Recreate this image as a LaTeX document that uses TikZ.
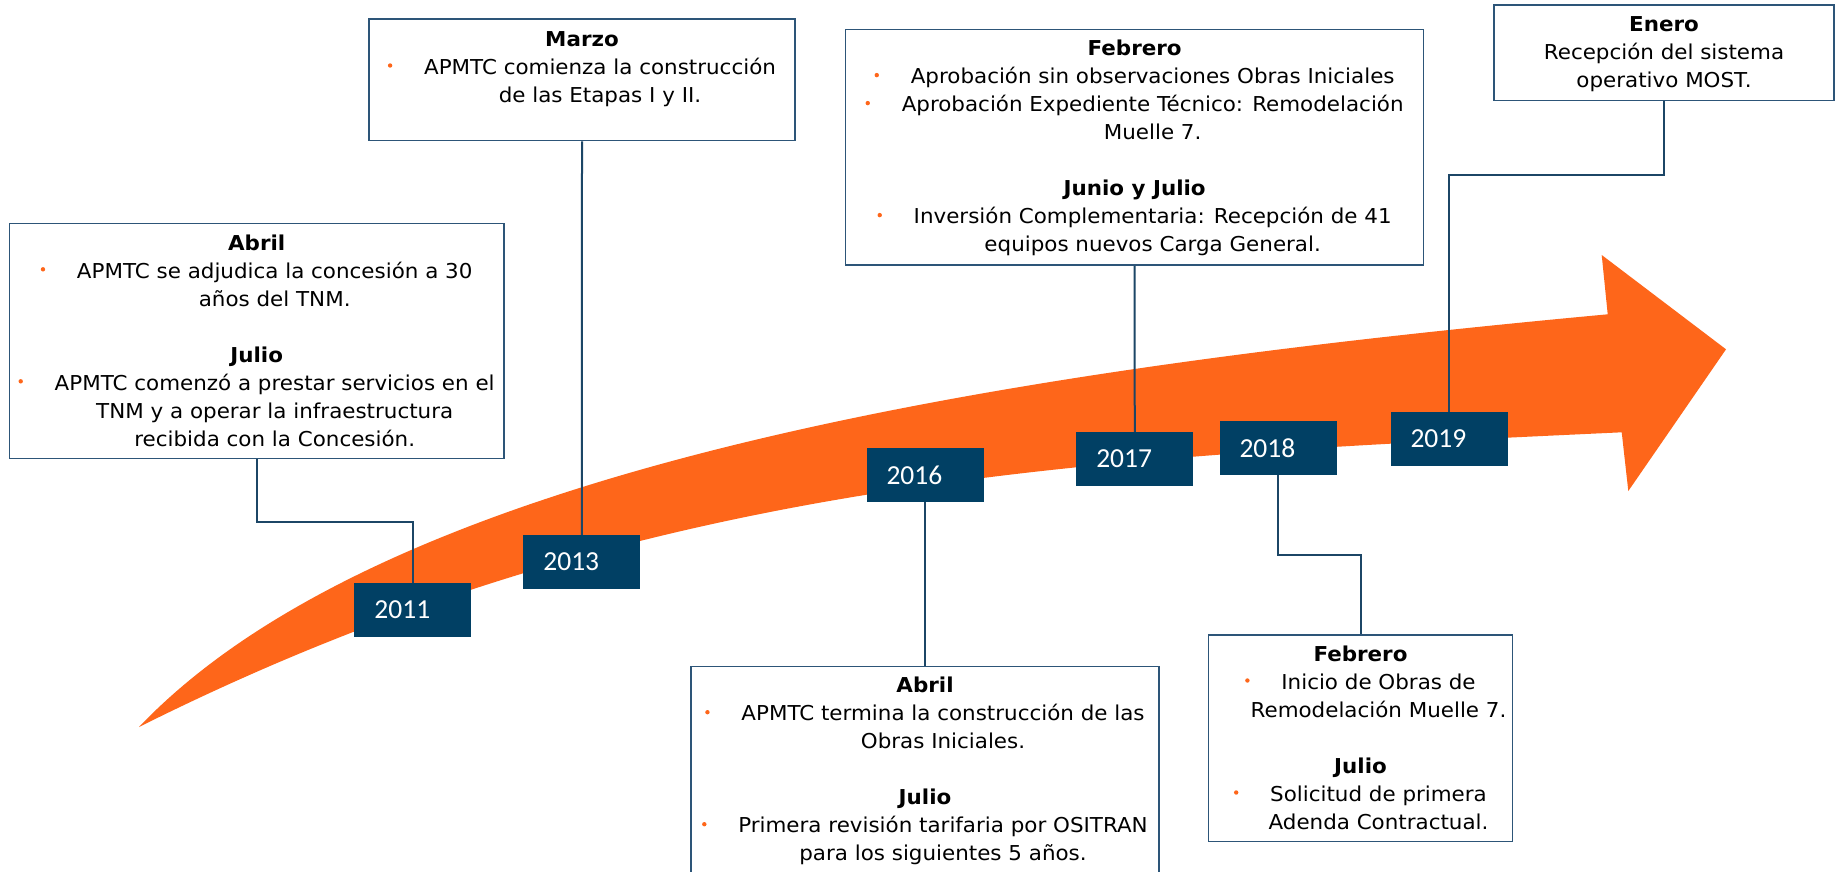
\documentclass[tikz,border=0pt]{standalone}
\usepackage{fontspec}
\newfontfamily\vfont[FakeStretch=1.045]{DejaVu Sans}
\newfontfamily\cfont{Carlito}
\definecolor{orng}{RGB}{254,102,26}
\definecolor{navy}{RGB}{1,64,100}
\definecolor{bord}{RGB}{45,85,120}
\definecolor{conncol}{RGB}{28,70,102}
\newcommand\bul{\hspace*{36pt}\llap{\tikz[baseline=-8.7pt]\fill[orng] (0,0) circle (2.2pt);\hspace{31.8pt}}}
\newcommand\indt{\hspace*{36pt}}
\newcommand\firstl{\rule{0pt}{20pt}}
\begin{document}
\begin{tikzpicture}[x=1pt,y=-1pt,
 tbox/.style={draw=bord, line width=1.5pt, fill=white, inner sep=0pt},
 ybox/.style={fill=navy, inner sep=0pt, minimum width=117pt, minimum height=53.7pt},
 ytxt/.style={font=\cfont\fontsize{27.5}{30}\selectfont, text=white, inner sep=0pt, anchor=west},
 txt/.style={font=\vfont\fontsize{20.5}{28}\selectfont, align=center, inner sep=0pt, anchor=north},
 connline/.style={draw=conncol, line width=2pt}]
\useasboundingbox (0,0) rectangle (1841,871);
\fill[white] (0,0) rectangle (1841,871);
% arrow
\fill[orng] (139,727) .. controls (389,464.5) and (1008,369.8) .. (1607.7,314.3)
  -- (1601.7,255) -- (1726,349.3) -- (1628.3,491) -- (1621.7,432.3)
  .. controls (1072,457.9) and (639,477) .. (139,727) -- cycle;
% text boxes
\node[tbox, minimum width=494.6pt, minimum height=235.4pt] (b2011) at (256.7,341) {};
\node[tbox, minimum width=426pt, minimum height=121.7pt] (b2013) at (582,79.85) {};
\node[tbox, minimum width=577.9pt, minimum height=235.7pt] (b2017) at (1134.65,147.15) {};
\node[tbox, minimum width=340pt, minimum height=95.7pt] (b2019) at (1664,52.85) {};
\node[tbox, minimum width=468pt, minimum height=223.3pt] (b2016) at (925,778.35) {};
\node[tbox, minimum width=304.4pt, minimum height=206.7pt] (b2018) at (1360.5,738.35) {};
% texts
\node[txt] (t2011) at (256.7,229.8) {\firstl\textbf{Abril}\\
\bul APMTC se adjudica la concesión a 30\\
\indt años del TNM.\\[28pt]
\textbf{Julio}\\
\bul APMTC comenzó a prestar servicios en el\\
\indt TNM y a operar la infraestructura\\
\indt recibida con la Concesión.};
\node[txt] (t2013) at (582,26) {\firstl\textbf{Marzo}\\
\bul APMTC comienza la construcción\\
\indt de las Etapas I y II.};
\node[txt] (t2017) at (1134.65,35.6) {\firstl\textbf{Febrero}\\
\bul Aprobación sin observaciones Obras Iniciales\\
\bul Aprobación Expediente Técnico: Remodelación\\
\indt Muelle 7.\\[28pt]
\textbf{Junio y Julio}\\
\bul Inversión Complementaria: Recepción de 41\\
\indt equipos nuevos Carga General.};
\node[txt] (t2019) at (1664,11.7) {\firstl\textbf{Enero}\\
Recepción del sistema\\
operativo MOST.};
\node[txt] (t2016) at (925,672.7) {\firstl\textbf{Abril}\\
\bul APMTC termina la construcción de las\\
\indt Obras Iniciales.\\[28pt]
\textbf{Julio}\\
\bul Primera revisión tarifaria por OSITRAN\\
\indt para los siguientes 5 años.};
\node[txt] (t2018) at (1360.5,641) {\firstl\textbf{Febrero}\\
\bul Inicio de Obras de\\
\indt Remodelación Muelle 7.\\[28pt]
\textbf{Julio}\\
\bul Solicitud de primera\\
\indt Adenda Contractual.};
% year boxes
\node[ybox] (y2011) at (412.95,609.85) {};
\node[ybox] (y2013) at (581.9,561.85) {};
\node[ybox] (y2016) at (925,474.85) {};
\node[ybox] (y2017) at (1134.75,458.85) {};
\node[ybox] (y2018) at (1278,447.85) {};
\node[ybox] (y2019) at (1449,438.85) {};
\node[ytxt] (l2011) at ([xshift=20pt]y2011.west) {2011};
\node[ytxt] (l2013) at ([xshift=20pt]y2013.west) {2013};
\node[ytxt] (l2016) at ([xshift=20pt]y2016.west) {2016};
\node[ytxt] (l2017) at ([xshift=20pt]y2017.west) {2017};
\node[ytxt] (l2018) at ([xshift=20pt]y2018.west) {2018};
\node[ytxt] (l2019) at ([xshift=20pt]y2019.west) {2019};
% connectors
\draw[connline] (b2011.south) -- ++(0,62.3) -| (y2011.north);
\draw[connline] (b2013.south) -- (y2013.north);
\draw[connline] (y2016.south) -- (b2016.north);
\draw[connline] (b2017.south) -- (y2017.north);
\draw[connline] (y2018.south) -- ++(0,80.3) -| (b2018.north);
\draw[connline] (b2019.south) -- ++(0,73.1) -| (y2019.north);
\end{tikzpicture}
\end{document}
